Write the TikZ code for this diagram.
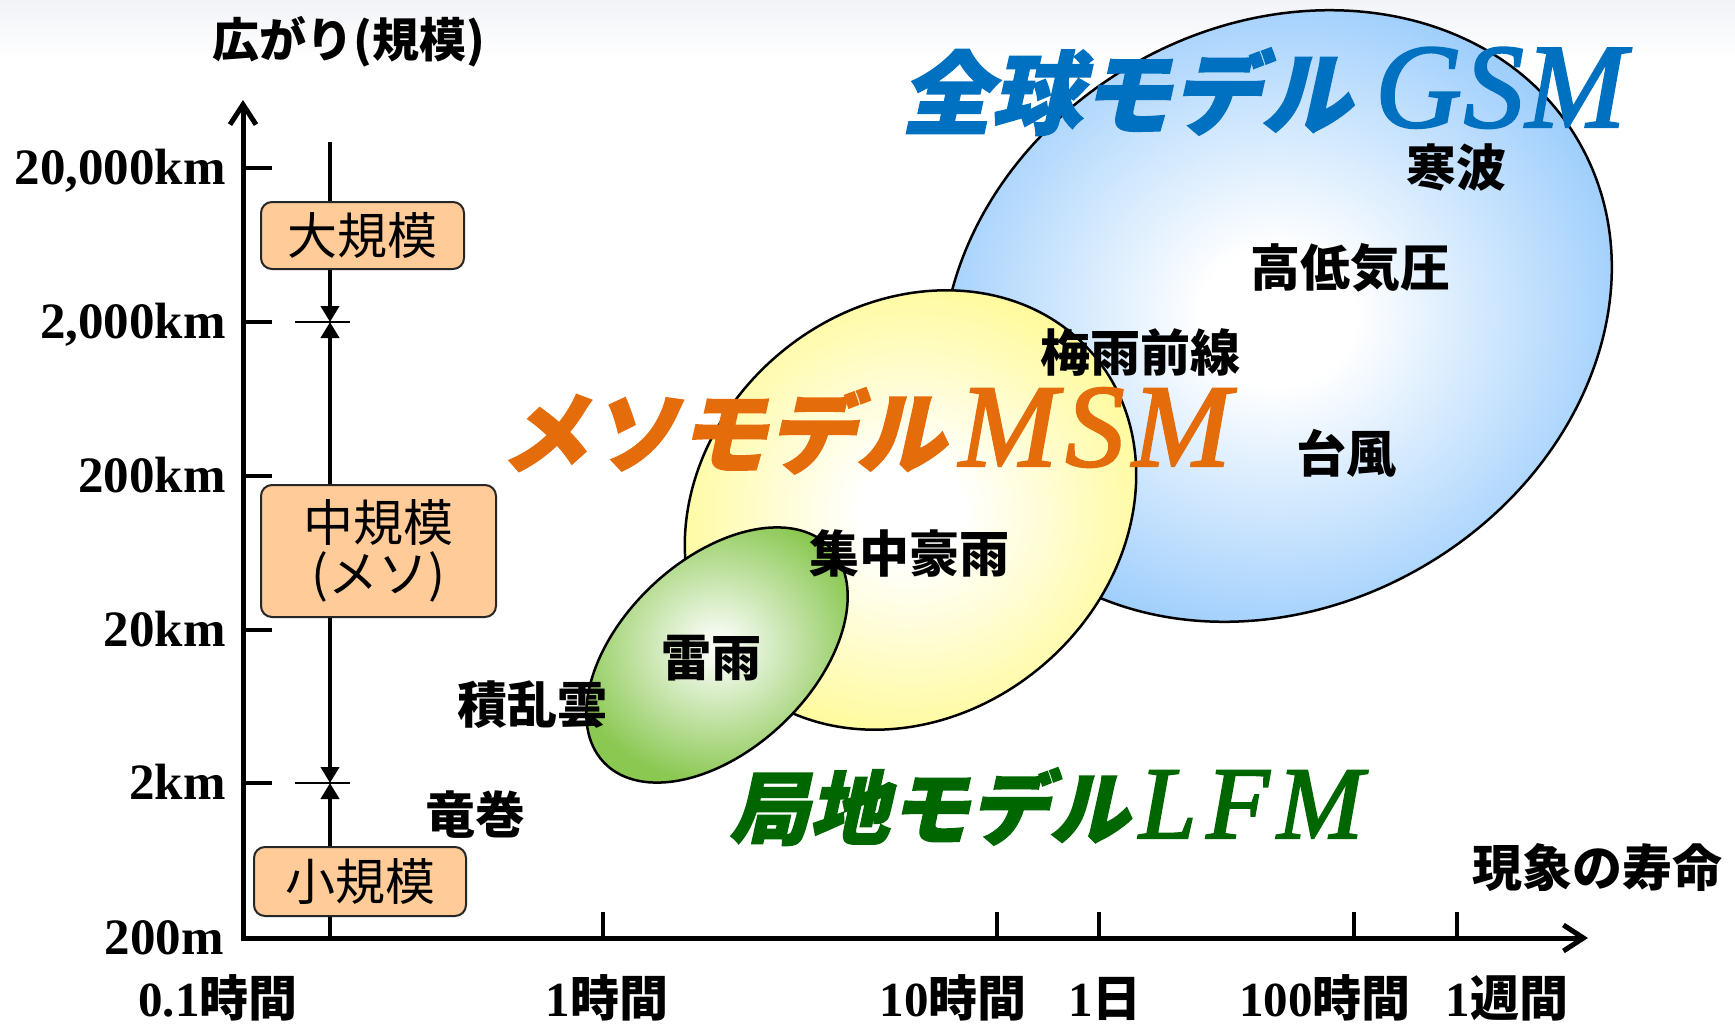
\documentclass[tikz,border=0pt]{standalone}
\usepackage{fontspec}
\setmainfont{Liberation Serif}
\newfontfamily\jp{Noto Sans CJK JP}
\newfontfamily\jpt[FakeSlant=0.22,FakeBold=2]{Noto Sans CJK JP}
\newfontfamily\ttl[FakeBold=2]{Liberation Serif}
\usetikzlibrary{shapes.geometric,arrows.meta}
\definecolor{gsmblue}{RGB}{0,112,192}
\definecolor{msmorange}{RGB}{228,108,10}
\definecolor{lfmgreen}{RGB}{0,102,0}
\definecolor{gsmedge}{RGB}{150,202,252}
\definecolor{msmedge}{RGB}{255,250,150}
\definecolor{lfmedge}{RGB}{138,200,82}
\definecolor{boxfill}{RGB}{255,204,153}
\definecolor{topgray}{RGB}{241,243,247}
\pgfdeclareradialshading{gsmshade}{\pgfpoint{0bp}{0bp}}{color(0bp)=(white); color(5bp)=(white); color(25bp)=(gsmedge); color(50bp)=(gsmedge)}
\pgfdeclareradialshading{msmshade}{\pgfpoint{0bp}{0bp}}{color(0bp)=(white); color(5bp)=(white); color(25bp)=(msmedge); color(50bp)=(msmedge)}
\pgfdeclareradialshading{lfmshade}{\pgfpoint{0bp}{0bp}}{color(0bp)=(white!95!lfmedge); color(3bp)=(white!90!lfmedge); color(25bp)=(lfmedge); color(50bp)=(lfmedge)}
\newcommand{\nodepth}[1]{\raisebox{0pt}[\height][0pt]{#1}}
\begin{document}
\begin{tikzpicture}[x=1pt,y=1pt,
  ell/.style={ellipse, draw=black, line width=2.5pt, inner sep=0pt, shade},
  lab/.style={font=\jp\bfseries\fontsize{50}{50}\selectfont, inner sep=0pt},
  ylab/.style={font=\bfseries\fontsize{51}{51}\selectfont, anchor=base east, inner sep=0pt},
  xlab/.style={font=\bfseries\fontsize{49}{49}\selectfont, anchor=base, inner sep=0pt},
  scalebox/.style={draw=black!85, line width=2pt, fill=boxfill, rounded corners=11pt,
    font=\jp\fontsize{50}{52}\selectfont, align=center, inner sep=0pt},
  axisline/.style={line width=5pt, {Straight Barb[length=20pt,width=26pt]}-{Straight Barb[length=20pt,width=26pt]}},
  tickline/.style={line width=3.5pt},
  vline/.style={line width=4.5pt},
  varrow/.style={line width=4.5pt, -{Triangle[length=16pt,width=18pt]}},
  barline/.style={line width=2.5pt}]
\useasboundingbox (0,0) rectangle (1735,-1028);
\fill[white] (0,0) rectangle (1735,-1028);
\shade[top color=topgray, bottom color=white] (0,0) rectangle (1735,-60);

% ellipses
\node[ell, shading=gsmshade, minimum width=697pt, minimum height=580pt, rotate=30.1] (gsm) at (1277,-316) {};
\node[ell, shading=msmshade, minimum width=480pt, minimum height=408pt, rotate=40.2] (msm) at (910.5,-510) {};
\node[ell, shading=lfmshade, minimum width=312pt, minimum height=190pt, rotate=43.5] (lfm) at (717,-655) {};

% model titles
\node[anchor=base west, inner sep=0pt, text=gsmblue] (tgsm) at (901,-127)
  {\nodepth{{\jpt\bfseries\fontsize{90}{90}\selectfont 全球モデル}\hspace{24pt}{\ttl\itshape\fontsize{120}{120}\selectfont G\kern2pt S\kern2pt M}}};
\node[anchor=base west, inner sep=0pt, text=msmorange] (tmsm) at (500,-466)
  {\nodepth{{\jpt\bfseries\fontsize{89}{89}\selectfont メソモデル}\hspace{14pt}{\ttl\itshape\fontsize{118}{118}\selectfont M\kern8pt S\kern8pt M}}};
\node[anchor=base west, inner sep=0pt, text=lfmgreen] (tlfm) at (729,-838)
  {\nodepth{{\jpt\bfseries\fontsize{80}{80}\selectfont 局地モデル}\hspace{10pt}{\ttl\itshape\fontsize{103}{103}\selectfont L\kern10pt F\kern8pt M}}};

% phenomena
\node[lab] (kanpa) at (1456,-167) {寒波};
\node[lab] (teiki) at (1350,-268) {高低気圧};
\node[lab] (baiu) at (1140,-352) {梅雨前線};
\node[lab] (taifu) at (1346,-453) {台風};
\node[lab] (gou) at (909,-553) {集中豪雨};
\node[lab] (rai) at (711,-658) {雷雨};
\node[lab] (seki) at (532,-705) {積乱雲};
\node[lab] (tatsu) at (475,-815) {竜巻};

% axes
\coordinate (O) at (243,-938);
\coordinate (ytip) at (243,-100);
\coordinate (xtip) at (1588,-938);
\draw[axisline] (ytip) -- (O) -- (xtip);
\node[font=\jp\bfseries\fontsize{47}{47}\selectfont, inner sep=0pt] (ytitle) at (349,-42) {広がり(規模)};
\node[lab] (xtitle) at (1597,-868) {現象の寿命};

% y ticks and labels
\foreach \yy/\txt/\nm in {168/{20,000km}/ya,322/{2,000km}/yb,476/{200km}/yc,630/{20km}/yd,783/{2km}/ye}{
  \coordinate (\nm l) at (243,-\yy);
  \coordinate (\nm r) at (272,-\yy);
  \draw[tickline] (\nm l) -- (\nm r);
  \node[ylab] (\nm) at (226,-\yy-16) {\txt};
}
\node[ylab] (yf) at (224,-954) {200m};

% x ticks and labels
\foreach \xx/\nm in {603/xa,997/xb,1099/xc,1354/xd,1457/xe}{
  \coordinate (\nm t) at (\xx,-912);
  \coordinate (\nm b) at (\xx,-938);
  \draw[tickline] (\nm t) -- (\nm b);
}
\node[xlab] (l01) at (218,-1016) {0.1{\jp\bfseries 時間}};
\node[xlab] (l1) at (607,-1016) {1{\jp\bfseries 時間}};
\node[xlab] (l10) at (953,-1016) {10{\jp\bfseries 時間}};
\node[xlab] (l1d) at (1105,-1016) {1{\jp\bfseries 日}};
\node[xlab] (l100) at (1325,-1016) {100{\jp\bfseries 時間}};
\node[xlab] (l1w) at (1507,-1016) {1{\jp\bfseries 週間}};

% scale column
\coordinate (vtop) at (330,-142);
\coordinate (b1) at (330,-322);
\coordinate (b2) at (330,-783);
\coordinate (b1l) at (295,-322);
\coordinate (b1r) at (350,-322);
\coordinate (b2l) at (295,-783);
\coordinate (b2r) at (350,-783);
\node[scalebox, minimum width=203pt, minimum height=67pt] (big) at (362.5,-235.5) {大規模};
\node[scalebox, minimum width=235pt, minimum height=132pt] (mid) at (378.5,-551) {中規模\\[-1pt](メソ)};
\node[scalebox, minimum width=212pt, minimum height=69pt] (small) at (360,-881.5) {小規模};
\draw[vline] (vtop) -- (vtop |- big.north);
\draw[varrow] (vtop |- big.south) -- (b1);
\draw[varrow] (vtop |- mid.north) -- (b1);
\draw[varrow] (vtop |- mid.south) -- (b2);
\draw[varrow] (vtop |- small.north) -- (b2);
\draw[vline] (vtop |- small.south) -- (vtop |- O);
\draw[barline] (b1l) -- (b1r);
\draw[barline] (b2l) -- (b2r);
\end{tikzpicture}
\end{document}
